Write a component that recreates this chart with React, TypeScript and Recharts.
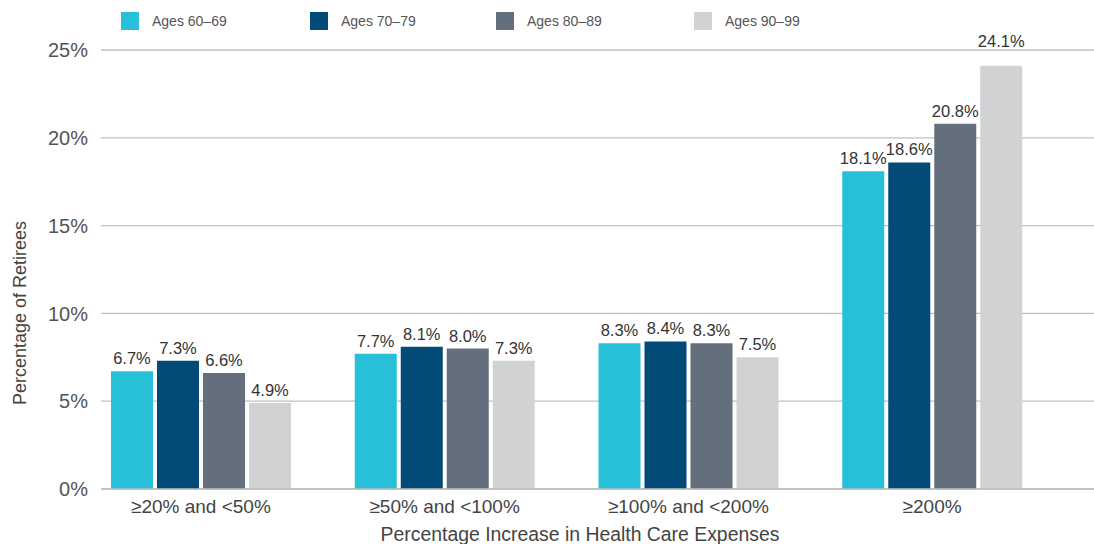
import React from 'react';
import { BarChart, Bar, XAxis, YAxis, CartesianGrid, LabelList } from 'recharts';

const categories = ['≥20% and <50%', '≥50% and <100%', '≥100% and <200%', '≥200%'];
const ages6069 = [6.7, 7.7, 8.3, 18.1];
const ages7079 = [7.3, 8.1, 8.4, 18.6];
const ages8089 = [6.6, 8.0, 8.3, 20.8];
const ages9099 = [4.9, 7.3, 7.5, 24.1];
const yTicks = [0, 5, 10, 15, 20, 25];

const series = [
  { key: 'a60', name: 'Ages 60–69', color: '#28C0D9', values: ages6069 },
  { key: 'a70', name: 'Ages 70–79', color: '#024A78', values: ages7079 },
  { key: 'a80', name: 'Ages 80–89', color: '#646F7D', values: ages8089 },
  { key: 'a90', name: 'Ages 90–99', color: '#D1D2D4', values: ages9099 },
];

// legend item left edges
const legendLeft = [121, 310, 496, 694];

const FONT = '"Liberation Sans", Arial, sans-serif';

const data = categories.map((cat, i) => {
  const row: Record<string, string | number> = { cat };
  series.forEach(s => {
    row[s.key] = s.values[i];
  });
  return row;
});

const fmt = (v: number) => `${v.toFixed(1)}%`;

// value label above each bar; labels that would hit the top gridline get lifted above it
const ValueLabel = (props: any) => {
  const { x, y, width, value } = props;
  const lift = value > 23 ? 19 : 7;
  return (
    <text x={x + width / 2} y={y - lift} textAnchor="middle" fill="#333" fontSize={16.5} fontFamily={FONT}>
      {fmt(value)}
    </text>
  );
};

export default function App() {
  return (
    <div style={{ position: 'absolute', left: 0, top: 0, width: 1094, height: 544, fontFamily: FONT, background: '#fff' }}>
      {/* Legend */}
      {series.map((s, i) => (
        <div
          key={s.key}
          style={{ position: 'absolute', left: legendLeft[i], top: 12, height: 18, display: 'flex', alignItems: 'center' }}
        >
          <div style={{ width: 18, height: 18, background: s.color }} />
          <span style={{ marginLeft: 13, fontSize: 14, color: '#555' }}>{s.name}</span>
        </div>
      ))}
      <BarChart
        width={1094}
        height={544}
        data={data}
        margin={{ top: 50, right: 0, bottom: 25, left: 0 }}
        barGap={4}
        style={{ fontFamily: FONT }}
      >
        <CartesianGrid vertical={false} stroke="#bfbfbf" strokeWidth={1.3} />
        <XAxis
          dataKey="cat"
          height={30}
          padding={{ left: -22, right: 40 }}
          tickLine={false}
          tickSize={6}
          tickMargin={5}
          axisLine={{ stroke: '#bfbfbf', strokeWidth: 1.3 }}
          tick={{ fill: '#444', fontSize: 19, fontFamily: FONT }}
          label={{
            content: () => (
              <text x={580} y={541} textAnchor="middle" fill="#444" fontSize={19.4} fontFamily={FONT}>
                Percentage Increase in Health Care Expenses
              </text>
            ),
          }}
        />
        <YAxis
          width={101}
          domain={[0, 25]}
          ticks={yTicks}
          tickFormatter={(v: number) => `${v}%`}
          axisLine={false}
          tickLine={false}
          tickSize={6}
          tickMargin={7}
          tick={{ fill: '#555', fontSize: 20, fontFamily: FONT }}
          label={{
            content: () => (
              <text
                x={20}
                y={313}
                transform="rotate(-90 20 313)"
                textAnchor="middle"
                dominantBaseline="central"
                fill="#444"
                fontSize={18}
                fontFamily={FONT}
              >
                Percentage of Retirees
              </text>
            ),
          }}
        />
        {series.map(s => (
          <Bar key={s.key} dataKey={s.key} name={s.name} fill={s.color} barSize={42} isAnimationActive={false}>
            <LabelList dataKey={s.key} content={ValueLabel} />
          </Bar>
        ))}
      </BarChart>
    </div>
  );
}
